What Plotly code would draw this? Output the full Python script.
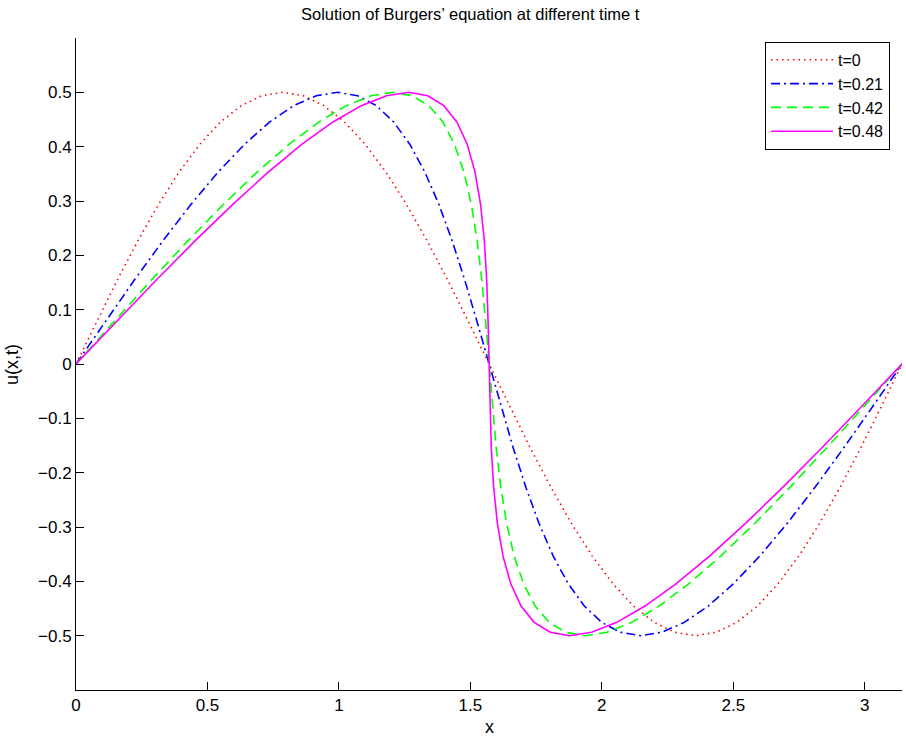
import plotly.graph_objects as go

# Sample points along each profile u(x, t) of Burgers' equation
u_values = [0.0, 0.0782, 0.1545, 0.2270, 0.2939, 0.3536, 0.4045, 0.4455, 0.4755, 0.4938,
            0.5, 0.4938, 0.4755, 0.4455, 0.4045, 0.3536, 0.2939, 0.2270, 0.1545, 0.0782,
            0.0, -0.0782, -0.1545, -0.2270, -0.2939, -0.3536, -0.4045, -0.4455, -0.4755, -0.4938,
            -0.5, -0.4938, -0.4755, -0.4455, -0.4045, -0.3536, -0.2939, -0.2270, -0.1545, -0.0782,
            0.0]

x_t0 = [0.0, 0.07854, 0.15708, 0.23562, 0.31416, 0.39270, 0.47124, 0.54978, 0.62832, 0.70686,
        0.78540, 0.86394, 0.94248, 1.02102, 1.09956, 1.17810, 1.25664, 1.33518, 1.41372, 1.49226,
        1.57080, 1.64934, 1.72788, 1.80642, 1.88496, 1.96350, 2.04204, 2.12058, 2.19911, 2.27765,
        2.35619, 2.43473, 2.51327, 2.59181, 2.67035, 2.74889, 2.82743, 2.90597, 2.98451, 3.06305,
        3.14159]

x_t021 = [0.0, 0.11138, 0.22197, 0.33096, 0.43760, 0.54119, 0.64113, 0.73689, 0.82805, 0.91428,
          0.99540, 1.07136, 1.14221, 1.20813, 1.26945, 1.32659, 1.38008, 1.43052, 1.47861, 1.52510,
          1.57080, 1.61649, 1.66298, 1.71107, 1.76151, 1.81500, 1.87214, 1.93346, 1.99938, 2.07023,
          2.14619, 2.22731, 2.31354, 2.40470, 2.50046, 2.60040, 2.70399, 2.81063, 2.91962, 3.03021,
          3.14159]

x_t042 = [0.0, 0.14423, 0.28686, 0.42630, 0.56104, 0.68968, 0.81102, 0.92400, 1.02778, 1.12169,
          1.20540, 1.27877, 1.34194, 1.39524, 1.43934, 1.47508, 1.50352, 1.52586, 1.54350, 1.55795,
          1.57080, 1.58364, 1.59809, 1.61573, 1.63807, 1.66651, 1.70225, 1.74635, 1.79965, 1.86282,
          1.93619, 2.01990, 2.11381, 2.21759, 2.33057, 2.45191, 2.58055, 2.71529, 2.85473, 2.99736,
          3.14159]

x_t048 = [0.0, 0.15361, 0.30540, 0.45354, 0.59630, 0.73211, 0.85956, 0.97746, 1.08485, 1.18096,
          1.26540, 1.33804, 1.39901, 1.44870, 1.48788, 1.51751, 1.53878, 1.55310, 1.56204, 1.56733,
          1.57080, 1.57426, 1.57955, 1.58849, 1.60281, 1.62408, 1.65371, 1.69289, 1.74258, 1.80355,
          1.87619, 1.96063, 2.05674, 2.16413, 2.28203, 2.40948, 2.54529, 2.68805, 2.83619, 2.98798,
          3.14159]

series_names = ["t=0", "t=0.21", "t=0.42", "t=0.48"]
series_x = [x_t0, x_t021, x_t042, x_t048]
series_colors = ["#ff0000", "#0000ff", "#00ff00", "#ff00ff"]
series_dash = ["1.5px,4px", "9px,4px,2px,4px", "10px,6px", "solid"]

x_ticks = [0, 0.5, 1, 1.5, 2, 2.5, 3]
y_ticks = [-0.5, -0.4, -0.3, -0.2, -0.1, 0, 0.1, 0.2, 0.3, 0.4, 0.5]

FONT = "Liberation Sans, Arial, Helvetica, sans-serif"

fig = go.Figure()
for name, xs, color, dash in zip(series_names, series_x, series_colors, series_dash):
    fig.add_trace(go.Scatter(
        x=xs, y=u_values, mode="lines", name=name,
        line=dict(color=color, width=1.6, dash=dash),
    ))

fig.update_layout(
    width=906, height=737,
    margin=dict(l=76, r=4, t=38, b=47),
    paper_bgcolor="white", plot_bgcolor="white",
    font=dict(family=FONT, size=17, color="black"),
    showlegend=True,
    legend=dict(
        x=0.9855, xanchor="right", y=0.994, yanchor="top",
        bgcolor="white", bordercolor="black", borderwidth=1,
        font=dict(family=FONT, size=16, color="black"),
        tracegroupgap=0, itemwidth=62,
    ),
    xaxis=dict(
        range=[0, 3.14159], tickvals=x_ticks, ticktext=[f"{v:g}" for v in x_ticks],
        ticks="inside", ticklen=8, tickcolor="black", tickwidth=1,
        tickfont=dict(family=FONT, size=17, color="black"),
        showline=True, linecolor="black", linewidth=1, mirror=False,
        showgrid=False, zeroline=False,
    ),
    yaxis=dict(
        range=[-0.6, 0.6], tickvals=y_ticks,
        ticktext=[f"{v:g}".replace("-", "\u2212") for v in y_ticks],
        ticks="inside", ticklen=8, tickcolor="black", tickwidth=1,
        tickfont=dict(family=FONT, size=17, color="black"),
        showline=True, linecolor="black", linewidth=1, mirror=False,
        showgrid=False, zeroline=False,
    ),
    annotations=[
        dict(text="Solution of Burgers\u2019 equation at different time t",
             xref="paper", yref="paper", x=0.477, y=1.037,
             xanchor="center", yanchor="middle", showarrow=False,
             font=dict(family=FONT, size=16.5, color="black")),
        dict(text="x", xref="paper", yref="paper", x=0.5, y=-0.056,
             xanchor="center", yanchor="middle", showarrow=False,
             font=dict(family=FONT, size=18, color="black")),
        dict(text="u(x,t)", xref="paper", yref="paper", x=-0.0775, y=0.5,
             xanchor="center", yanchor="middle", showarrow=False, textangle=-90,
             font=dict(family=FONT, size=18, color="black")),
    ],
)

fig.write_html("out.html")
